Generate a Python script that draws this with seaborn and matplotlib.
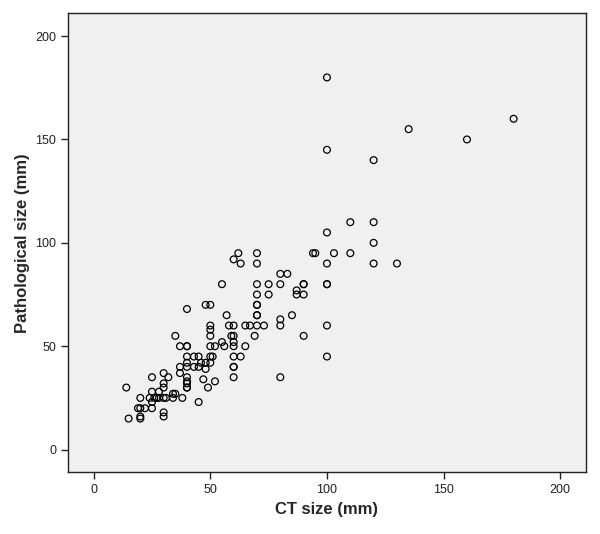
import numpy as np
import pandas as pd
import matplotlib
matplotlib.use("Agg")
import matplotlib.pyplot as plt
import seaborn as sns

# CT size vs pathological size (mm)
ct_size = [
    100, 180, 135, 160, 100, 120,
    110, 120, 100, 120,
    62, 70, 94, 95, 103, 110,
    60, 63, 70, 100, 120, 130,
    80, 83,
    55, 70, 75, 80, 90, 90, 100, 100,
    87, 87, 70, 75, 90,
    48, 50, 70, 70, 40, 57, 70, 70, 85, 80,
    50, 58, 60, 65, 67, 70, 73, 80, 100,
    50, 50, 35, 59, 60, 69, 90,
    55, 60,
    37, 40, 40, 50, 52, 56, 60, 65,
    60, 63, 40, 43, 45, 50, 51, 100,
    46, 48, 50, 40,
    37, 43, 45, 40, 60, 60, 48,
    37, 40, 25, 47, 60, 80, 30, 32,
    40, 40, 40, 40, 49, 52, 30, 30, 14,
    25, 28, 34, 35,
    34, 38, 20, 24, 26, 27, 28, 30, 31,
    25, 45,
    19, 20, 22, 25,
    30, 30, 20, 20, 15,
]
path_size = [
    180, 160, 155, 150, 145, 140,
    110, 110, 105, 100,
    95, 95, 95, 95, 95, 95,
    92, 90, 90, 90, 90, 90,
    85, 85,
    80, 80, 80, 80, 80, 80, 80, 80,
    77, 75, 75, 75, 75,
    70, 70, 70, 70, 68, 65, 65, 65, 65, 63,
    60, 60, 60, 60, 60, 60, 60, 60, 60,
    58, 55, 55, 55, 55, 55, 55,
    52, 52,
    50, 50, 50, 50, 50, 50, 50, 50,
    45, 45, 45, 45, 45, 45, 45, 45,
    42, 42, 42, 42,
    40, 40, 40, 40, 40, 40, 39,
    37, 35, 35, 34, 35, 35, 37, 35,
    33, 32, 30, 30, 30, 33, 32, 30, 30,
    28, 28, 27, 27,
    25, 25, 25, 25, 25, 25, 25, 25, 25,
    23, 23,
    20, 20, 20, 20,
    18, 16, 16, 15, 15,
]

df = pd.DataFrame({"ct": ct_size, "path": path_size})

sns.set_style("ticks")
plt.rcParams["font.family"] = ["Liberation Sans", "DejaVu Sans"]

fig = plt.figure(figsize=(6, 5.34), dpi=100)
ax = fig.add_axes([0.1133, 0.1155, 0.8633, 0.8595])
ax.set_facecolor("#f0f0f0")

sns.scatterplot(data=df, x="ct", y="path", ax=ax, marker="o", s=24,
                facecolor="none", edgecolor="black", linewidth=0.9)

ax.set_xlim(-11, 211)
ax.set_ylim(-11, 211)
ax.set_xticks([0, 50, 100, 150, 200])
ax.set_yticks([0, 50, 100, 150, 200])
for sp in ax.spines.values():
    sp.set_visible(True)
    sp.set_color("#222222")
    sp.set_linewidth(1.0)
ax.tick_params(direction="out", length=5, width=1, labelsize=9, colors="#222222")
ax.set_xlabel("CT size (mm)", fontsize=12, fontweight="bold", labelpad=4)
ax.set_ylabel("Pathological size (mm)", fontsize=12, fontweight="bold", labelpad=4)

fig.savefig("out.png", dpi=100, facecolor="white")
